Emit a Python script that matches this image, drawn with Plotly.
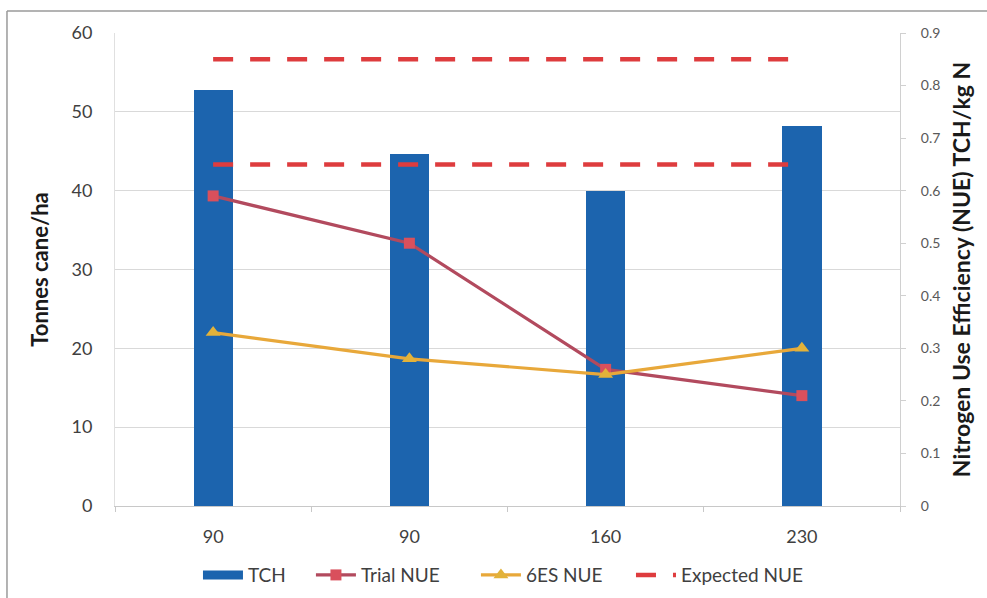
import plotly.graph_objects as go

# Nitrogen rate categories (kg N/ha) and results
categories = ["90", "90", "160", "230"]
tch = [52.8, 44.7, 40.0, 48.2]            # Tonnes cane/ha
trial_nue = [0.59, 0.50, 0.26, 0.21]      # TCH/kg N
six_es_nue = [0.33, 0.28, 0.25, 0.30]     # TCH/kg N
expected_upper = [0.85, 0.85, 0.85, 0.85]
expected_lower = [0.65, 0.65, 0.65, 0.65]

x = list(range(len(categories)))
FONT = "Lato, 'Open Sans', sans-serif"
BAR_BLUE = "#1C64AE"

fig = go.Figure()

fig.add_trace(go.Bar(
    x=x, y=tch, name="TCH", width=0.2, legendgroup="tch", showlegend=False,
    marker=dict(color=BAR_BLUE, line=dict(width=0)),
    yaxis="y",
))
# wide legend swatch for the TCH bars
fig.add_trace(go.Scatter(
    x=[None], y=[None], name="TCH", mode="lines", legendgroup="tch",
    line=dict(color=BAR_BLUE, width=9), yaxis="y", legend="legend",
))
fig.add_trace(go.Scatter(
    x=x, y=trial_nue, name="Trial NUE", mode="lines+markers",
    line=dict(color="#B24A5E", width=3.2),
    marker=dict(symbol="square", size=11, color="#D9505C"),
    yaxis="y2", legend="legend2",
))
fig.add_trace(go.Scatter(
    x=x, y=six_es_nue, name="6ES NUE", mode="lines+markers",
    line=dict(color="#E8A83A", width=3.2),
    marker=dict(symbol="triangle-up", size=13, color="#E2B23A"),
    yaxis="y2", legend="legend3",
))
fig.add_trace(go.Scatter(
    x=x, y=expected_upper, name="Expected NUE", mode="lines",
    line=dict(color="#DE3C3E", width=4.5, dash="20px,17px"),
    yaxis="y2", legendgroup="exp", legend="legend4",
))
fig.add_trace(go.Scatter(
    x=x, y=expected_lower, name="Expected NUE", mode="lines",
    line=dict(color="#DE3C3E", width=4.5, dash="20px,17px"),
    yaxis="y2", showlegend=False, legendgroup="exp", legend="legend4",
))


def legend_box(xpos):
    return dict(
        orientation="h", x=xpos, xanchor="left", y=-0.146, yanchor="middle",
        font=dict(size=19, color="#404040"), itemwidth=40,
        bgcolor="rgba(0,0,0,0)",
    )


fig.update_layout(
    width=987, height=598,
    margin=dict(l=115, r=87, t=33, b=92, autoexpand=False),
    paper_bgcolor="white", plot_bgcolor="white",
    font=dict(family=FONT, color="#404040"),
    bargap=0,
    xaxis=dict(
        range=[-0.5, 3.5],
        tickmode="array", tickvals=x, ticktext=categories,
        tickfont=dict(size=18, color="#404040"),
        ticks="", showgrid=False, zeroline=False, ticklabelstandoff=14,
        showline=True, linecolor="#c8c8c8", linewidth=1,
        minor=dict(tickmode="array", tickvals=[-0.5, 0.5, 1.5, 2.5, 3.5],
                   ticks="outside", ticklen=5, tickcolor="#c8c8c8"),
    ),
    yaxis=dict(
        range=[0, 60], dtick=10,
        tickfont=dict(size=18, color="#404040"),
        gridcolor="#d9d9d9", gridwidth=1, zeroline=False,
        showline=True, linecolor="#e0e0e0", linewidth=1,
        ticks="", ticklabelstandoff=18,
        title=dict(text="<b>Tonnes cane/ha</b>", font=dict(size=22, color="#1a1a1a"),
                   standoff=16),
    ),
    yaxis2=dict(
        range=[0, 0.9], dtick=0.1, overlaying="y", side="right",
        tickfont=dict(size=14, color="#595959"),
        showgrid=False, zeroline=False,
        showline=True, linecolor="#d0d0d0", linewidth=1,
        ticks="outside", ticklen=5, tickcolor="#d0d0d0", ticklabelstandoff=12,
        title=dict(text="<b>Nitrogen Use Efficiency (NUE) TCH/kg N</b>",
                   font=dict(size=23, color="#1a1a1a"), standoff=14),
    ),
    legend=legend_box(0.1057),
    legend2=legend_box(0.2496),
    legend3=legend_box(0.4598),
    legend4=legend_box(0.6573),
    shapes=[
        dict(type="line", xref="paper", yref="paper",
             x0=-0.1376, x1=1.12, y0=1.0465, y1=1.0465,
             line=dict(color="#9a9a9a", width=1.5)),
        dict(type="line", xref="paper", yref="paper",
             x0=-0.1376, x1=-0.1376, y0=1.0465, y1=-0.2,
             line=dict(color="#9a9a9a", width=1.5)),
    ],
)

fig.write_html("out.html")
